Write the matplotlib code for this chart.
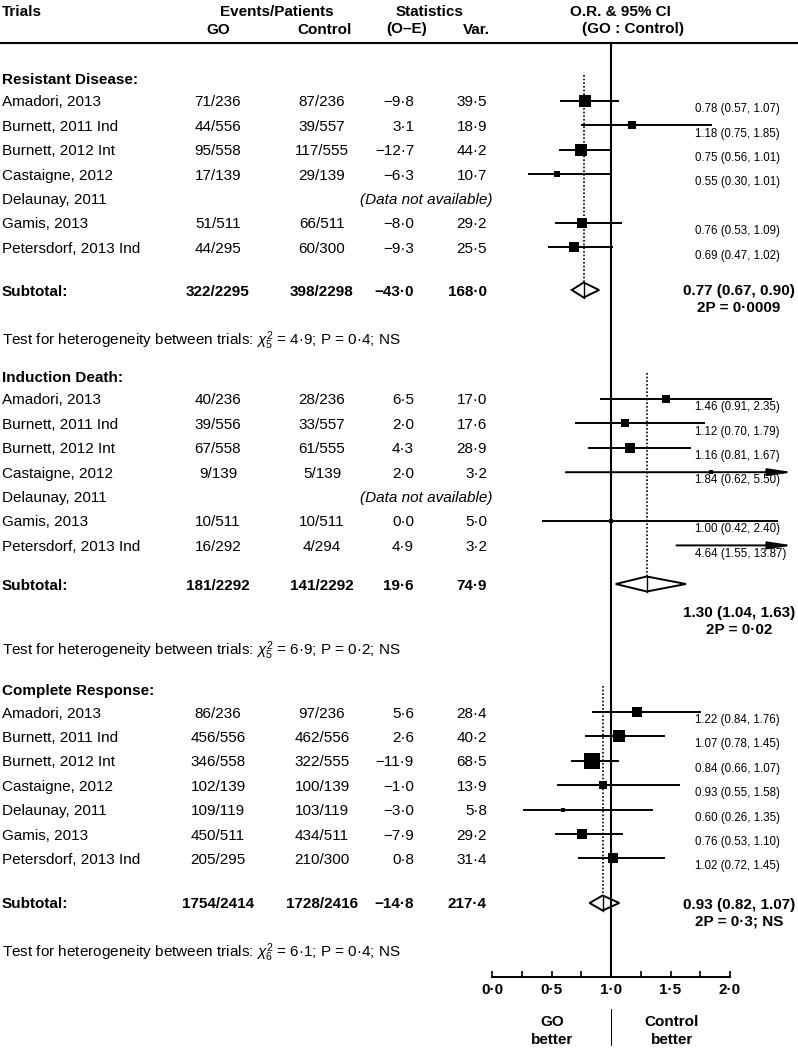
import numpy as np
import matplotlib
matplotlib.use("Agg")
import matplotlib.pyplot as plt
import matplotlib.transforms as mtransforms
from matplotlib.patches import Polygon

plt.rcParams['font.family'] = ['Liberation Sans', 'DejaVu Sans']
plt.rcParams['mathtext.fontset'] = 'custom'
plt.rcParams['mathtext.rm'] = 'Liberation Sans'
plt.rcParams['mathtext.it'] = 'Liberation Sans:italic'
plt.rcParams['mathtext.bf'] = 'Liberation Sans:bold'

# ---------------- data ----------------
trials = ["Amadori, 2013", "Burnett, 2011 Ind", "Burnett, 2012 Int", "Castaigne, 2012",
          "Delaunay, 2011", "Gamis, 2013", "Petersdorf, 2013 Ind"]
section_titles = ["Resistant Disease:", "Induction Death:", "Complete Response:"]

# Resistant disease
rd_go_ev = [71, 44, 95, 17, None, 51, 44]
rd_go_n = [236, 556, 558, 139, None, 511, 295]
rd_ct_ev = [87, 39, 117, 29, None, 66, 60]
rd_ct_n = [236, 557, 555, 139, None, 511, 300]
rd_oe = [-9.8, 3.1, -12.7, -6.3, None, -8.0, -9.3]
rd_var = [39.5, 18.9, 44.2, 10.7, None, 29.2, 25.5]
rd_or = [0.78, 1.18, 0.75, 0.55, None, 0.76, 0.69]
rd_lo = [0.57, 0.75, 0.56, 0.30, None, 0.53, 0.47]
rd_hi = [1.07, 1.85, 1.01, 1.01, None, 1.09, 1.02]
rd_sub = ["322/2295", "398/2298", -43.0, 168.0]
rd_pool = [0.77, 0.67, 0.90]
rd_p = "2P = 0·0009"
rd_het = (5, "4·9", "0·4")

# Induction death
id_go_ev = [40, 39, 67, 9, None, 10, 16]
id_go_n = [236, 556, 558, 139, None, 511, 292]
id_ct_ev = [28, 33, 61, 5, None, 10, 4]
id_ct_n = [236, 557, 555, 139, None, 511, 294]
id_oe = [6.5, 2.0, 4.3, 2.0, None, 0.0, 4.9]
id_var = [17.0, 17.6, 28.9, 3.2, None, 5.0, 3.2]
id_or = [1.46, 1.12, 1.16, 1.84, None, 1.00, 4.64]
id_lo = [0.91, 0.70, 0.81, 0.62, None, 0.42, 1.55]
id_hi = [2.35, 1.79, 1.67, 5.50, None, 2.40, 13.87]
id_sub = ["181/2292", "141/2292", 19.6, 74.9]
id_pool = [1.30, 1.04, 1.63]
id_p = "2P = 0·02"
id_het = (5, "6·9", "0·2")

# Complete response
cr_go_ev = [86, 456, 346, 102, 109, 450, 205]
cr_go_n = [236, 556, 558, 139, 119, 511, 295]
cr_ct_ev = [97, 462, 322, 100, 103, 434, 210]
cr_ct_n = [236, 556, 555, 139, 119, 511, 300]
cr_oe = [5.6, 2.6, -11.9, -1.0, -3.0, -7.9, 0.8]
cr_var = [28.4, 40.2, 68.5, 13.9, 5.8, 29.2, 31.4]
cr_or = [1.22, 1.07, 0.84, 0.93, 0.60, 0.76, 1.02]
cr_lo = [0.84, 0.78, 0.66, 0.55, 0.26, 0.53, 0.72]
cr_hi = [1.76, 1.45, 1.07, 1.58, 1.35, 1.10, 1.45]
cr_sub = ["1754/2414", "1728/2416", -14.8, 217.4]
cr_pool = [0.93, 0.82, 1.07]
cr_p = "2P = 0·3; NS"
cr_het = (6, "6·1", "0·4")

xticks_major = [0.0, 0.5, 1.0, 1.5, 2.0]
xtick_labels = ["0·0", "0·5", "1·0", "1·5", "2·0"]
xticks_minor = [0.25, 0.75, 1.25, 1.75]

# ---------------- layout ----------------
W, H = 798, 1049
PX0, PXU = 492.0, 119.0          # pixel of OR=0, pixels per OR unit
ARROW_END = (793 - PX0) / PXU
Y_AXIS = 977

fig = plt.figure(figsize=(W / 100, H / 100), dpi=100)
ax = fig.add_axes([0, 0, 1, 1])
ax.set_xlim(-PX0 / PXU, (W - PX0) / PXU)
ax.set_ylim(H, 0)
blend = mtransforms.blended_transform_factory(ax.transAxes, ax.transData)

FS = 11
FS_CI = 8.3


def txt(xpx, y, s, ha='left', bold=False, size=FS, italic=False, base=5.5):
    ax.text(xpx / W, y + base, s, transform=blend, ha=ha, va='baseline', fontsize=size,
            fontweight='bold' if bold else 'normal', fontstyle='italic' if italic else 'normal')


def fmt(v):
    return f"{v:.1f}".replace('.', '·').replace('-', '−')


# header
txt(2, 10, "Trials", bold=True)
txt(277, 10, "Events/Patients", ha='center', bold=True)
txt(430, 10, "Statistics", ha='center', bold=True)
txt(620, 10, "O.R. & 95% CI", ha='center', bold=True)
txt(218, 28, "GO", ha='center', bold=True)
txt(325, 28, "Control", ha='center', bold=True)
txt(407, 28, "(O–E)", ha='center', bold=True)
txt(476, 28, "Var.", ha='center', bold=True)
txt(633, 28, "(GO : Control)", ha='center', bold=True)
ax.plot([0, 1], [43, 43], transform=blend, color='black', lw=1.5, solid_capstyle='butt')

# columns
X_GO, X_CT, X_OE, X_VAR, X_CI, X_SUM = 218, 322, 414, 487, 695, 739

sections = [
    dict(go_ev=rd_go_ev, go_n=rd_go_n, ct_ev=rd_ct_ev, ct_n=rd_ct_n, oe=rd_oe, var=rd_var,
         est=rd_or, lo=rd_lo, hi=rd_hi, sub=rd_sub, pool=rd_pool, p=rd_p, het=rd_het,
         head=78, first=101, subtot=290, sumlab=290, test=339),
    dict(go_ev=id_go_ev, go_n=id_go_n, ct_ev=id_ct_ev, ct_n=id_ct_n, oe=id_oe, var=id_var,
         est=id_or, lo=id_lo, hi=id_hi, sub=id_sub, pool=id_pool, p=id_p, het=id_het,
         head=376, first=399, subtot=584, sumlab=611, test=650),
    dict(go_ev=cr_go_ev, go_n=cr_go_n, ct_ev=cr_ct_ev, ct_n=cr_ct_n, oe=cr_oe, var=cr_var,
         est=cr_or, lo=cr_lo, hi=cr_hi, sub=cr_sub, pool=cr_pool, p=cr_p, het=cr_het,
         head=689, first=712, subtot=903, sumlab=903, test=952),
]
STEP = 24.4
DH = 7.5

for title, sec in zip(section_titles, sections):
    txt(2, sec['head'], title, bold=True)
    for i, name in enumerate(trials):
        y = sec['first'] + i * STEP
        txt(2, y, name)
        if sec['go_ev'][i] is None:
            txt(492, y, "(Data not available)", ha='right', italic=True)
            continue
        txt(X_GO, y, f"{sec['go_ev'][i]}/{sec['go_n'][i]}", ha='center')
        txt(X_CT, y, f"{sec['ct_ev'][i]}/{sec['ct_n'][i]}", ha='center')
        txt(X_OE, y, fmt(sec['oe'][i]), ha='right')
        txt(X_VAR, y, fmt(sec['var'][i]), ha='right')
        est, lo, hi = sec['est'][i], sec['lo'][i], sec['hi'][i]
        if hi > ARROW_END:
            ax.annotate("", xy=(ARROW_END, y), xytext=(lo, y),
                        arrowprops=dict(arrowstyle='-|>,head_length=1.45,head_width=0.22',
                                        color='black', lw=1.4, shrinkA=0, shrinkB=0))
        else:
            ax.plot([lo, hi], [y, y], color='black', lw=1.4, solid_capstyle='butt')
        ms = 1.39 * np.sqrt(sec['var'][i])
        ax.plot([est], [y], marker='s', color='black', ms=ms, mew=0, zorder=5)
        txt(X_CI, y + 7, f"{est:.2f} ({lo:.2f}, {hi:.2f})", size=FS_CI, base=4.1)

    # subtotal
    ys = sec['subtot']
    txt(2, ys, "Subtotal:", bold=True)
    txt(X_GO, ys, sec['sub'][0], ha='center', bold=True)
    txt(X_CT, ys, sec['sub'][1], ha='center', bold=True)
    txt(X_OE, ys, fmt(sec['sub'][2]), ha='right', bold=True)
    txt(X_VAR, ys, fmt(sec['sub'][3]), ha='right', bold=True)
    pe, plo, phi = sec['pool']
    ax.add_patch(Polygon([(plo, ys), (pe, ys - DH), (phi, ys), (pe, ys + DH)], closed=True,
                         facecolor='white', edgecolor='black', lw=1.4, zorder=4))
    ax.plot([pe, pe], [ys - DH, ys + DH], color='black', lw=1.0, zorder=5)
    ax.plot([pe, pe], [sec['head'] - 3, ys - DH], color='black', lw=1.2,
            linestyle=(0, (1, 1.2)), zorder=3)
    txt(X_SUM, sec['sumlab'], f"{pe:.2f} ({plo:.2f}, {phi:.2f})", ha='center', bold=True)
    txt(X_SUM, sec['sumlab'] + 17, sec['p'], ha='center', bold=True)

    df, chi, pv = sec['het']
    txt(2, sec['test'],
        r"Test for heterogeneity between trials: $\chi^2_{%d}$ = %s; P = %s; NS" % (df, chi, pv))

# line of no effect
ax.plot([1, 1], [43, Y_AXIS], color='black', lw=1.5, solid_capstyle='butt', zorder=4)
ax.plot([1, 1], [1009, 1045], color='black', lw=0.7)

# axis
for s in ['top', 'left', 'right']:
    ax.spines[s].set_visible(False)
ax.spines['bottom'].set_position(('data', Y_AXIS))
ax.spines['bottom'].set_bounds(0, 2)
ax.spines['bottom'].set_linewidth(1.4)
ax.set_xticks(xticks_major)
ax.set_xticks(xticks_minor, minor=True)
ax.tick_params(axis='x', which='both', direction='in', length=4, width=1.2,
               labelbottom=False)
ax.set_yticks([])
ax.patch.set_visible(False)
for xv, lab in zip(xticks_major, xtick_labels):
    ax.text(xv, 988 + 5.5, lab, ha='center', va='baseline', fontsize=FS, fontweight='bold')

txt(552, 1021, "GO", ha='center', bold=True)
txt(552, 1039, "better", ha='center', bold=True)
txt(672, 1021, "Control", ha='center', bold=True)
txt(672, 1039, "better", ha='center', bold=True)

fig.savefig("out.png", dpi=100, facecolor='white')
